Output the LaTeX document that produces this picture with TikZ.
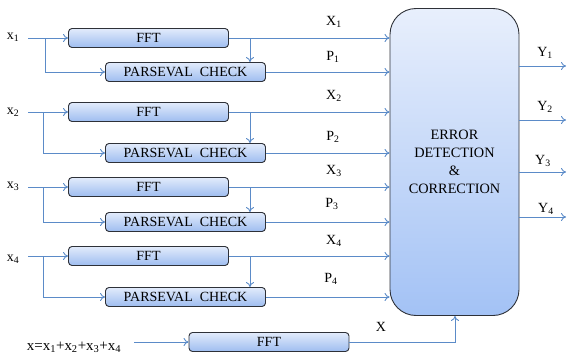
\documentclass[tikz,border=0pt]{standalone}
\usepackage{fontspec}
\setmainfont{Liberation Serif}
\usetikzlibrary{arrows.meta}
\definecolor{wire}{HTML}{5B8BC8}
\definecolor{edge}{HTML}{2E3138}
\definecolor{boxtop}{HTML}{E2EBFB}
\definecolor{boxbot}{HTML}{9EBDF0}
\definecolor{bigtop}{HTML}{E8EFFC}
\definecolor{bigbot}{HTML}{A3C2F5}
\tikzset{
  blk/.style={draw=edge, line width=0.9pt, rounded corners=3.5pt,
    top color=boxtop, bottom color=boxbot, minimum width=160pt,
    minimum height=19pt, inner sep=0pt, font=\fontsize{14}{16}\selectfont},
  bigblk/.style={draw=edge, line width=0.9pt, rounded corners=26pt,
    top color=bigtop, bottom color=bigbot, minimum width=129pt,
    minimum height=307pt, inner sep=0pt, align=center,
    font=\fontsize{14.3}{18}\selectfont},
  wirearrow/.style={draw=wire, line width=0.9pt,
    -{To[length=5pt,width=8pt]}},
  lbl/.style={inner sep=0pt, font=\fontsize{14}{16}\selectfont},
}
\begin{document}
\begin{tikzpicture}[x=1pt,y=-1pt]
\useasboundingbox (0,0) rectangle (568,356);

% central decision block
\node[bigblk] (ed) at (454.5,162) {ERROR\\DETECTION\\\&\\CORRECTION};

% the four channels: input, FFT and Parseval check
\foreach \i/\yf/\yp/\br/\ly in {1/38/72/45/37, 2/112/153/43/112, 3/187/222/43/186, 4/256/297/43/259}{
  \node[lbl] (in\i) at (13,\ly) {x\textsubscript{\i}};
  \node[blk] (fft\i) at (148.5,\yf) {FFT};
  \node[blk] (pc\i) at (185.5,\yp) {PARSEVAL\ \ CHECK};
  \coordinate (s\i) at (28,\yf);
  \coordinate (b\i) at (\br,\yf);
  \coordinate (t\i) at (250,\yf);
  \draw[wirearrow] (s\i) -- (fft\i.west);
  \draw[wirearrow] (b\i) |- (pc\i.west);
  \draw[wirearrow] (t\i) -- (t\i |- pc\i.north);
  \draw[wirearrow] (fft\i.east) -- (fft\i.east -| ed.west);
  \draw[wirearrow] (pc\i.east) -- (pc\i.east -| ed.west);
}

% labels on the block inputs
\node[lbl] at (334,22) {X\textsubscript{1}};
\node[lbl] at (333,57) {P\textsubscript{1}};
\node[lbl] at (334,96) {X\textsubscript{2}};
\node[lbl] at (333,137) {P\textsubscript{2}};
\node[lbl] at (334,171) {X\textsubscript{3}};
\node[lbl] at (332,204) {P\textsubscript{3}};
\node[lbl] at (334,241) {X\textsubscript{4}};
\node[lbl] at (331,279) {P\textsubscript{4}};

% sum of the inputs
\node[lbl, font=\fontsize{15}{17}\selectfont] (sum) at (74,347) {x=x\textsubscript{1}+x\textsubscript{2}+x\textsubscript{3}+x\textsubscript{4}};
\node[blk] (fft5) at (269,342) {FFT};
\coordinate (s5) at (134,342);
\draw[wirearrow] (s5) -- (fft5.west);
\coordinate (c5) at (455,342);
\draw[wirearrow] (fft5.east) -- (c5) -- (c5 |- ed.south);
\node[lbl] at (381,327) {X};

% outputs
\foreach \i/\yo/\yl/\xl in {1/66/53/545, 2/120/107/545, 3/172/161/543, 4/217/209/546}{
  \coordinate (o\i) at (566,\yo);
  \draw[wirearrow] (ed.east |- o\i) -- (o\i);
  \node[lbl] at (\xl,\yl) {Y\textsubscript{\i}};
}
\end{tikzpicture}
\end{document}
